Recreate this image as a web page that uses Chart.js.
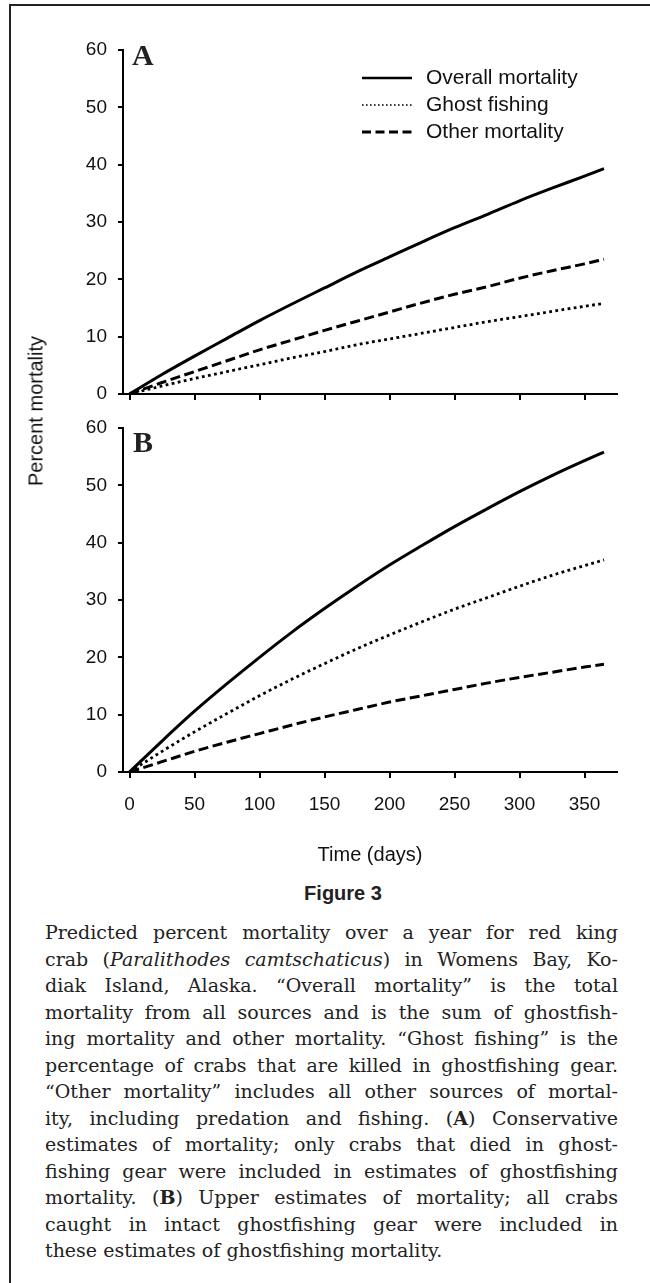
<!DOCTYPE html>
<html>
<head>
<meta charset="utf-8">
<script src="https://cdn.jsdelivr.net/npm/chart.js@4.4.0/dist/chart.umd.min.js"></script>
<style>
  body { margin: 0; background: #fff; }
  #page { position: relative; width: 650px; height: 1283px; overflow: hidden; background: #fff; }
  #frame { position: absolute; left: 9px; top: 4px; right: -5px; bottom: -5px;
           border-left: 2.5px solid #222; border-top: 2.5px solid #222; }
  .box { position: absolute; left: 0; width: 650px; }
  .panel { position: absolute; font: bold 30px "Liberation Serif"; line-height: 30px; color: #222; }
  #ylab { position: absolute; left: 36px; top: 411px; transform: translate(-50%, -50%) rotate(-90deg);
          font: 20px "Liberation Sans"; color: #111; white-space: nowrap; }
  #fig { position: absolute; left: 343px; top: 893px; transform: translate(-50%, -50%);
         font: bold 20px "Liberation Sans"; color: #222; white-space: nowrap; }
  #caption { position: absolute; left: 45px; top: 919px; width: 573px;
             font: 19px "DejaVu Serif"; line-height: 26.5px; color: #222; }
  #caption div { text-align: justify; text-align-last: justify; white-space: nowrap; }
  #caption div.last { text-align: left; text-align-last: left; }
</style>
</head>
<body>
<div id="page">
  <div id="frame"></div>
  <div class="box" style="top:0;height:420px"><canvas id="chartA"></canvas></div>
  <div class="box" style="top:400px;height:480px"><canvas id="chartB"></canvas></div>
  <div class="panel" style="left:132px;top:40px">A</div>
  <div class="panel" style="left:133px;top:427px">B</div>
  <div id="ylab">Percent mortality</div>
  <div id="fig">Figure 3</div>
  <div id="caption">
    <div>Predicted percent mortality over a year for red king</div>
    <div>crab (<i>Paralithodes camtschaticus</i>) in Womens Bay, Ko-</div>
    <div>diak Island, Alaska. “Overall mortality” is the total</div>
    <div>mortality from all sources and is the sum of ghostfish-</div>
    <div>ing mortality and other mortality. “Ghost fishing” is the</div>
    <div>percentage of crabs that are killed in ghostfishing gear.</div>
    <div>“Other mortality” includes all other sources of mortal-</div>
    <div>ity, including predation and fishing. (<b>A</b>) Conservative</div>
    <div>estimates of mortality; only crabs that died in ghost-</div>
    <div>fishing gear were included in estimates of ghostfishing</div>
    <div>mortality. (<b>B</b>) Upper estimates of mortality; all crabs</div>
    <div>caught in intact ghostfishing gear were included in</div>
    <div class="last">these estimates of ghostfishing mortality.</div>
  </div>
</div>
<script>
// days sampled along the curves
const days = [0, 25, 50, 75, 100, 125, 150, 175, 200, 225, 250, 275, 300, 325, 350, 365];

// panel A: conservative estimates
const overallA = [0, 3.4, 6.6, 9.7, 12.8, 15.7, 18.5, 21.3, 23.9, 26.5, 29.0, 31.3, 33.7, 35.9, 38.0, 39.3];
const ghostA   = [0, 1.4, 2.7, 3.9, 5.1, 6.3, 7.4, 8.6, 9.6, 10.6, 11.6, 12.6, 13.5, 14.4, 15.3, 15.8];
const otherA   = [0, 2.0, 3.9, 5.8, 7.7, 9.4, 11.1, 12.7, 14.3, 15.9, 17.4, 18.7, 20.2, 21.5, 22.7, 23.5];

// panel B: upper estimates
const overallB = [0, 5.4, 10.6, 15.4, 20.0, 24.4, 28.5, 32.4, 36.1, 39.5, 42.8, 45.9, 48.9, 51.7, 54.3, 55.8];
const ghostB   = [0, 3.6, 7.0, 10.2, 13.3, 16.2, 18.9, 21.5, 23.9, 26.2, 28.4, 30.4, 32.4, 34.3, 36.0, 37.0];
const otherB   = [0, 1.8, 3.6, 5.2, 6.7, 8.2, 9.6, 10.9, 12.2, 13.3, 14.4, 15.5, 16.5, 17.4, 18.3, 18.8];

const seriesNames = ['Overall mortality', 'Ghost fishing', 'Other mortality'];
const xTicks = [0, 50, 100, 150, 200, 250, 300, 350];

const lineW = [3, 2.8, 3];
const lineDash = [[], [2.8, 3.4], [10, 4.5]];
const legendW = [2.6, 1.6, 3];
const legendDash = [[], [1.6, 2.4], [9, 4.5]];

const tickFont = { family: 'Liberation Sans', size: 19 };

// legend drawn inside the plot area (top right of panel A)
const insideLegend = {
    id: 'insideLegend',
    afterDraw(chart, args, opts) {
        if (!opts.show) return;
        const ctx = chart.ctx;
        ctx.save();
        chart.data.datasets.forEach((ds, i) => {
            const y = opts.y + i * opts.gap;
            ctx.beginPath();
            ctx.setLineDash(legendDash[i]);
            ctx.lineWidth = legendW[i];
            ctx.strokeStyle = '#000';
            ctx.moveTo(opts.x, y);
            ctx.lineTo(opts.x + opts.len, y);
            ctx.stroke();
            ctx.setLineDash([]);
            ctx.fillStyle = '#111';
            ctx.font = '21px "Liberation Sans"';
            ctx.textBaseline = 'middle';
            ctx.fillText(ds.label, opts.x + opts.len + 14, y);
        });
        ctx.restore();
    }
};

function makeSets(vals) {
    return vals.map((v, i) => ({
        label: seriesNames[i],
        data: days.map((d, j) => ({ x: d, y: v[j] })),
        borderColor: '#000',
        borderWidth: lineW[i],
        borderDash: lineDash[i],
        pointRadius: 0,
        cubicInterpolationMode: 'monotone',
        fill: false
    }));
}

function makeScales(showX, xHeight) {
    return {
        x: {
            type: 'linear',
            min: -5,
            max: 375,
            afterBuildTicks: s => { s.ticks = xTicks.map(v => ({ value: v })); },
            afterFit: s => { s.height = xHeight; },
            grid: { drawOnChartArea: false, tickLength: 6, lineWidth: 2, color: '#000' },
            border: { display: true, width: 2, color: '#000' },
            ticks: { display: showX, padding: 15, maxRotation: 0, font: tickFont, color: '#111' },
            title: {
                display: showX,
                text: 'Time (days)',
                font: { family: 'Liberation Sans', size: 20 },
                color: '#111',
                padding: { top: 0, bottom: 13 }
            }
        },
        y: {
            min: 0,
            max: 60,
            afterFit: s => { s.width = 123; },
            grid: { drawOnChartArea: false, tickLength: 5, lineWidth: 2, color: '#000' },
            border: { display: true, width: 2, color: '#000' },
            ticks: { stepSize: 10, padding: 11, font: tickFont, color: '#111' }
        }
    };
}

function crearPanel(id, vals, showX, pad, xHeight, legend) {
    const ctx = document.getElementById(id).getContext('2d');
    return new Chart(ctx, {
        type: 'line',
        data: { datasets: makeSets(vals) },
        options: {
            responsive: true,
            maintainAspectRatio: false,
            animation: false,
            layout: { padding: pad },
            plugins: {
                legend: { display: false },
                tooltip: { enabled: false },
                insideLegend: legend
            },
            scales: makeScales(showX, xHeight)
        },
        plugins: [insideLegend]
    });
}

crearPanel('chartA', [overallA, ghostA, otherA], false,
    { top: 50, left: 0, right: 33, bottom: 0 }, 26,
    { show: true, x: 362, y: 78, gap: 27, len: 50 });

crearPanel('chartB', [overallB, ghostB, otherB], true,
    { top: 28, left: 0, right: 33, bottom: 0 }, 108,
    { show: false });
</script>
</body>
</html>
